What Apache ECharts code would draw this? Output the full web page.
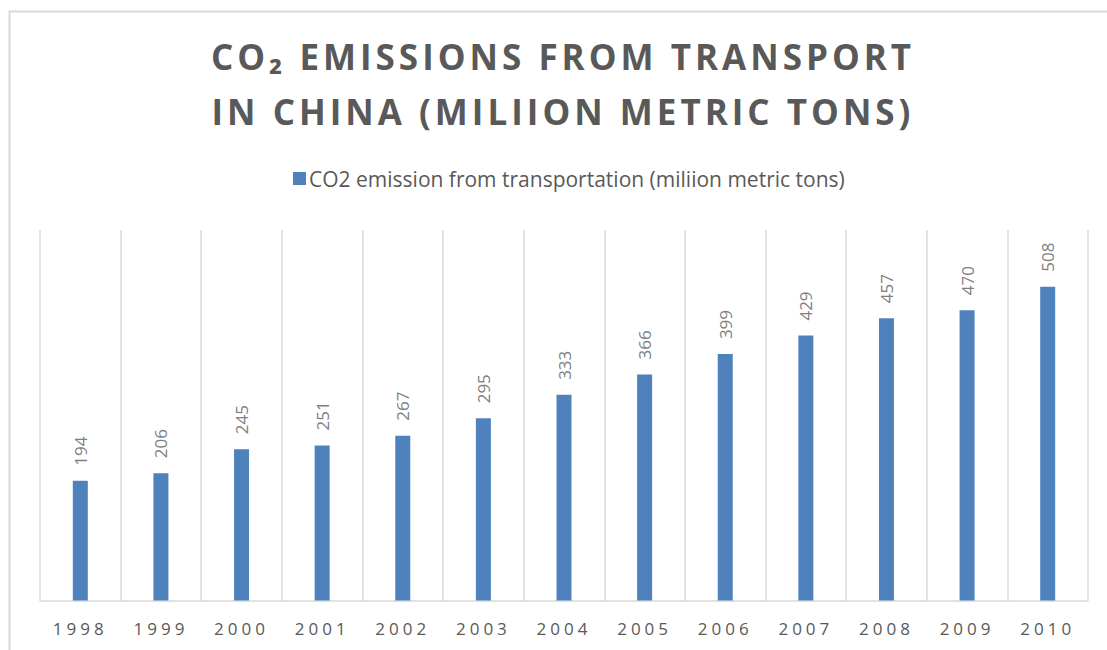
<!DOCTYPE html>
<html>
<head>
<meta charset="utf-8">
<script src="https://cdn.jsdelivr.net/npm/echarts@6/dist/echarts.min.js"></script>
<style>
  html, body { margin: 0; padding: 0; background: #fff; }
  #chart { width: 1107px; height: 650px; }
</style>
</head>
<body>
<div id="chart"></div>
<script>
// CO2 emissions from transport in China, 1998-2010
const years = ['1998', '1999', '2000', '2001', '2002', '2003', '2004', '2005', '2006', '2007', '2008', '2009', '2010'];
const emissions = [194, 206, 245, 251, 267, 295, 333, 366, 399, 429, 457, 470, 508];
const seriesName = 'CO2 emission from transportation (miliion metric tons)';
const titleLines = ['CO\u2082 EMISSIONS FROM TRANSPORT', 'IN CHINA (MILIION METRIC TONS)'];

const TEXT = '#595959';
const GRID = '#d9d9d9';
const BAR = '#4f81bd';

const chart = echarts.init(document.getElementById('chart'), null, { renderer: 'svg' });

chart.setOption({
  animation: false,
  backgroundColor: '#ffffff',
  graphic: [{
    type: 'rect',
    silent: true,
    shape: { x: 9.5, y: 11.5, width: 1200, height: 700 },
    style: { fill: 'none', stroke: GRID, lineWidth: 2 }
  }, {
    // chart title, two lines
    type: 'text',
    silent: true,
    style: {
      text: titleLines.join('\n'),
      x: 563,
      y: 29,
      textAlign: 'center',
      textVerticalAlign: 'top',
      fontFamily: 'Open Sans',
      fontWeight: 'bold',
      fontSize: 35,
      lineHeight: 55,
      fill: TEXT
    }
  }],
  legend: {
    top: 163,
    left: 288,
    itemWidth: 13,
    itemHeight: 13,
    itemGap: 10,
    icon: 'rect',
    textStyle: { fontFamily: 'Open Sans', fontSize: 21, color: TEXT, padding: [0, 0, 0, -2] }
  },
  grid: { left: 40, right: 19, top: 230, bottom: 49.5, containLabel: false },
  xAxis: {
    type: 'category',
    data: years,
    boundaryGap: true,
    axisLine: { lineStyle: { color: GRID, width: 1.5 } },
    axisTick: { show: false },
    axisLabel: {
      color: TEXT,
      fontFamily: 'Open Sans',
      fontSize: 17,
      margin: 19,
      interval: 0
    },
    splitLine: { show: true, lineStyle: { color: GRID, width: 1.5 } }
  },
  yAxis: {
    type: 'value',
    min: 0,
    max: 600,
    interval: 100,
    show: false,
    splitLine: { show: false }
  },
  series: [{
    name: seriesName,
    type: 'bar',
    data: emissions,
    barWidth: 15,
    itemStyle: { color: BAR },
    label: {
      show: true,
      position: 'top',
      rotate: 90,
      align: 'left',
      verticalAlign: 'middle',
      distance: 15,
      color: '#7f7f7f',
      fontFamily: 'Open Sans',
      fontSize: 17
    }
  }]
});

// Tracked lettering for the title and the year labels
function applySpacing() {
  const texts = document.querySelectorAll('#chart text');
  texts.forEach(function (t) {
    const s = t.textContent.trim();
    if (years.indexOf(s) >= 0) {
      t.style.letterSpacing = '4px';
    } else if (titleLines.some(function (l) { return s.indexOf(l.slice(0, 8)) >= 0; })) {
      t.style.letterSpacing = '4px';
    }
  });
}
chart.on('finished', applySpacing);
applySpacing();
</script>
</body>
</html>
